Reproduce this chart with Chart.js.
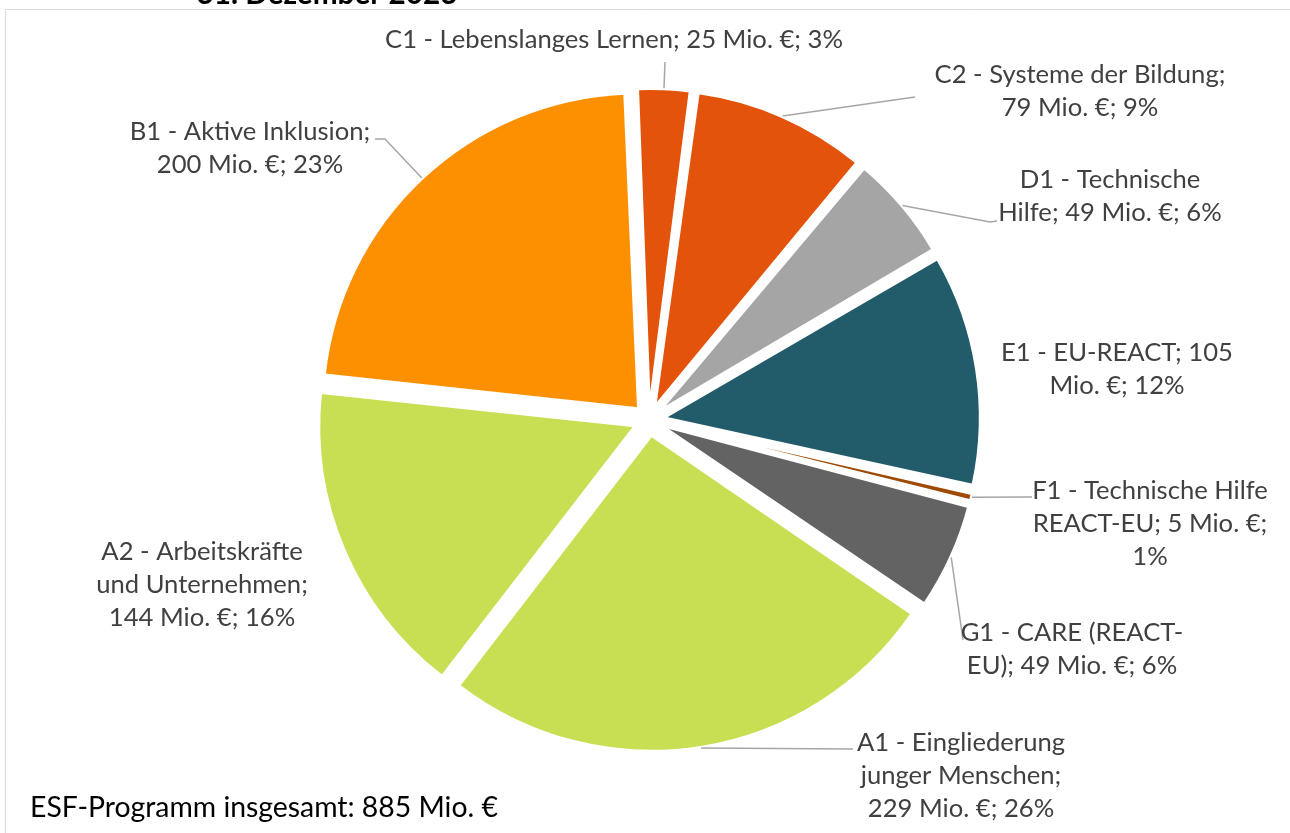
<!DOCTYPE html>
<html lang="de">
<head>
<meta charset="utf-8">
<title>ESF-Programm – Verteilung der Mittel</title>
<script src="https://cdn.jsdelivr.net/npm/chart.js@4.4.1/dist/chart.umd.min.js"></script>
<style>
    html, body { margin: 0; padding: 0; background: #ffffff; }
    #wrap { width: 1290px; height: 833px; }
</style>
</head>
<body>
<div id="wrap"><canvas id="esfChart" width="1290" height="833"></canvas></div>
<script>
// Data (Mio. €), clockwise from the top
const categories = [
    'C1 - Lebenslanges Lernen',
    'C2 - Systeme der Bildung',
    'D1 - Technische Hilfe',
    'E1 - EU-REACT',
    'F1 - Technische Hilfe REACT-EU',
    'G1 - CARE (REACT-EU)',
    'A1 - Eingliederung junger Menschen',
    'A2 - Arbeitskräfte und Unternehmen',
    'B1 - Aktive Inklusion'
];
const valuesMio = [25, 79, 49, 105, 5, 49, 229, 144, 200];
const sliceColors = ['#E3530C', '#E3530C', '#A5A5A5', '#225B6A', '#9E4A04', '#636363', '#C9DF53', '#C9DF53', '#FD9000'];
const titleText = '31. Dezember 2023';
const footerPrefix = 'ESF-Programm insgesamt: ';

// Layout
const PIE_RADIUS = 315;
const EXPLODE = 64;          // chart.js moves each slice by offset / 4
const LINE_H = 33;
const TEXT_COLOR = '#404040';
const LEADER_COLOR = '#A6A6A6';

// label centre x, middle of first line y, wrap width, leader bend points
const labelLayout = [
    { cx: 614,  y: 40,  wrap: 999, leader: [[665, 62]] },
    { cx: 1080, y: 75,  wrap: 300, leader: [[915, 97]] },
    { cx: 1110, y: 180, wrap: 225, leader: [[990, 222], [997, 221]] },
    { cx: 1117, y: 353, wrap: 238, leader: null },
    { cx: 1150, y: 491, wrap: 245, leader: [[1027, 497], [1032, 497]] },
    { cx: 1072, y: 633, wrap: 238, leader: [[963, 640]] },
    { cx: 961,  y: 743, wrap: 215, leader: [[853, 749]] },
    { cx: 202,  y: 552, wrap: 220, leader: null },
    { cx: 250,  y: 132, wrap: 245, leader: [[385, 139], [375, 139]] }
];

const total = valuesMio.reduce((a, b) => a + b, 0);
const FONT_FAMILY = "Lato, 'Noto Sans', sans-serif";

function fitSize(ctx, text, targetWidth, weight) {
    ctx.font = (weight || '') + ' 100px ' + FONT_FAMILY;
    return 100 * targetWidth / ctx.measureText(text).width;
}

function wrapText(ctx, text, maxW) {
    const tokens = [];
    text.split(' ').forEach((word, i) => {
        const parts = word.length > 1 ? word.split(/(?<=-)/) : [word];
        parts.forEach((p, j) => tokens.push({ text: p, space: j === 0 && i > 0 }));
    });
    const lines = [];
    let line = '';
    tokens.forEach(t => {
        const cand = line + (t.space && line ? ' ' : '') + t.text;
        if (line && ctx.measureText(cand).width > maxW) {
            lines.push(line);
            line = t.text;
        } else {
            line = cand;
        }
    });
    if (line) lines.push(line);
    return lines;
}

// keep exploded small slices at the same radius as the big ones
const explodeFix = {
    id: 'explodeFix',
    beforeDatasetsDraw(chart) {
        chart.getDatasetMeta(0).data.forEach(arc => {
            const circ = arc.endAngle - arc.startAngle;
            arc.outerRadius = PIE_RADIUS - (EXPLODE / 4) * (1 - Math.sin(Math.min(Math.PI, circ)));
        });
    }
};

const frameAndLabels = {
    id: 'frameAndLabels',
    beforeDraw(chart) {
        const ctx = chart.ctx;
        ctx.save();
        ctx.fillStyle = '#ffffff';
        ctx.fillRect(0, 0, chart.width, chart.height);
        ctx.strokeStyle = '#D9D9D9';
        ctx.lineWidth = 1;
        ctx.beginPath();
        ctx.moveTo(5.5, chart.height);
        ctx.lineTo(5.5, 9.5);
        ctx.lineTo(chart.width, 9.5);
        ctx.stroke();

        // title (mostly cut off at the top)
        const tSize = fitSize(ctx, titleText, 261, 'bold');
        ctx.font = 'bold ' + tSize + 'px ' + FONT_FAMILY;
        ctx.fillStyle = '#000000';
        ctx.textAlign = 'center';
        ctx.textBaseline = 'alphabetic';
        ctx.fillText(titleText, 327, 4);
        ctx.restore();
    },
    afterDatasetsDraw(chart) {
        const ctx = chart.ctx;
        const meta = chart.getDatasetMeta(0);
        const size = fitSize(ctx, categories[0] + '; ' + valuesMio[0] + ' Mio. €; 3%', 458);
        ctx.save();

        meta.data.forEach((arc, i) => {
            const lay = labelLayout[i];
            const p = arc.getProps(['x', 'y', 'startAngle', 'endAngle'], true);
            const mid = (p.startAngle + p.endAngle) / 2;
            const dist = EXPLODE / 4 + PIE_RADIUS + 1;
            const ax = p.x + Math.cos(mid) * dist;
            const ay = p.y + Math.sin(mid) * dist;

            if (lay.leader) {
                ctx.strokeStyle = LEADER_COLOR;
                ctx.lineWidth = 1.5;
                ctx.beginPath();
                ctx.moveTo(ax, ay);
                lay.leader.forEach(pt => ctx.lineTo(pt[0], pt[1]));
                ctx.stroke();
            }

            const pct = Math.round(valuesMio[i] / total * 100);
            const text = categories[i] + '; ' + valuesMio[i] + ' Mio. €; ' + pct + '%';
            ctx.font = size + 'px ' + FONT_FAMILY;
            ctx.fillStyle = TEXT_COLOR;
            ctx.textAlign = 'center';
            ctx.textBaseline = 'middle';
            wrapText(ctx, text, lay.wrap).forEach((ln, k) => {
                ctx.fillText(ln, lay.cx, lay.y + k * LINE_H);
            });
        });

        // total
        const footer = footerPrefix + total + ' Mio. €';
        const fSize = fitSize(ctx, footer, 468);
        ctx.font = fSize + 'px ' + FONT_FAMILY;
        ctx.fillStyle = '#000000';
        ctx.textAlign = 'left';
        ctx.textBaseline = 'middle';
        ctx.fillText(footer, 30, 808);
        ctx.restore();
    }
};

new Chart(document.getElementById('esfChart').getContext('2d'), {
    type: 'pie',
    data: {
        labels: categories,
        datasets: [{
            data: valuesMio,
            backgroundColor: sliceColors,
            borderColor: '#ffffff',
            borderWidth: 2,
            offset: EXPLODE,
            hoverOffset: EXPLODE
        }]
    },
    options: {
        responsive: false,
        animation: false,
        radius: PIE_RADIUS,
        rotation: -2.5,
        layout: { padding: { left: 8, top: 7, right: 0, bottom: 0 } },
        plugins: {
            legend: { display: false },
            tooltip: { enabled: false }
        }
    },
    plugins: [explodeFix, frameAndLabels]
});
</script>
</body>
</html>
